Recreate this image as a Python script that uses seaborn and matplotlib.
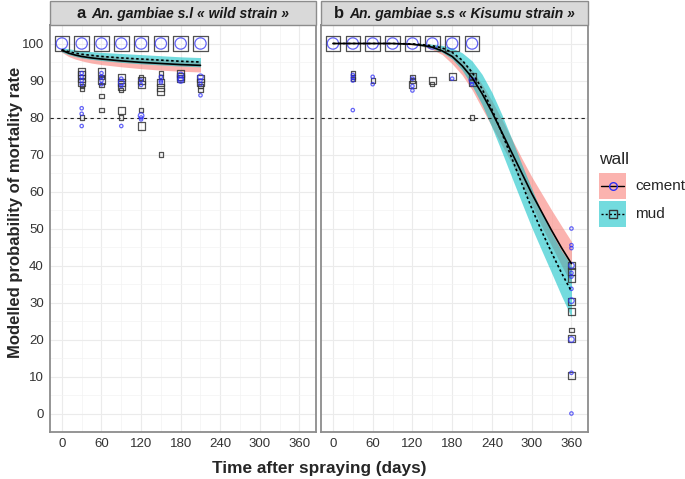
import matplotlib
matplotlib.use("Agg")
import matplotlib.pyplot as plt
from matplotlib.patches import Rectangle
from matplotlib.lines import Line2D
import pandas as pd
import seaborn as sns

# ---- observed points: panel a (wild strain) ----
a_cement_t = [0, 30, 60, 90, 120, 150, 180, 210,
              30, 30, 30, 30, 30, 30, 30,
              60, 60, 60, 60,
              90, 90, 90, 90,
              120, 120, 120, 120, 120,
              150, 150, 150,
              180, 180, 180,
              210, 210, 210, 210]
a_cement_y = [100, 100, 100, 100, 100, 100, 100, 100,
              92, 91, 90, 89, 82.5, 81, 77.7,
              92, 91, 90, 89,
              90.5, 89.5, 88.5, 77.7,
              90, 88.8, 80.5, 80, 79.5,
              91, 90, 89.5,
              91.5, 90.5, 90,
              91, 90, 89, 86]
a_cement_n = ['L'] * 8 + ['S', 'S', 'S', 'S', 'S', 'S', 'S',
              'S', 'S', 'S', 'S',
              'S', 'M', 'S', 'S',
              'S', 'S', 'M', 'S', 'S',
              'S', 'S', 'S',
              'M', 'M', 'M',
              'M', 'S', 'S', 'S']

a_mud_t = [0, 30, 60, 90, 120, 150, 180, 210,
           30, 30, 30, 30, 30, 30, 30,
           60, 60, 60, 60, 60, 60,
           90, 90, 90, 90, 90, 90,
           120, 120, 120, 120, 120,
           150, 150, 150, 150, 150, 150,
           180, 180, 180,
           210, 210, 210, 210]
a_mud_y = [100, 100, 100, 100, 100, 100, 100, 100,
           92.5, 91.5, 90.5, 89.5, 88.5, 87.7, 80,
           92.3, 91, 90, 88.8, 85.8, 82,
           90.8, 89.5, 88.5, 87.5, 82, 80,
           90.8, 90, 89, 82, 77.7,
           92, 91, 89.5, 88, 87, 70,
           92, 91, 90.5,
           90.5, 89.5, 88.5, 87.5]
a_mud_n = ['L'] * 8 + ['M', 'M', 'M', 'M', 'S', 'S', 'S',
           'M', 'S', 'M', 'S', 'S', 'S',
           'M', 'M', 'M', 'S', 'M', 'S',
           'S', 'M', 'M', 'S', 'M',
           'S', 'S', 'M', 'M', 'M', 'S',
           'M', 'M', 'M',
           'M', 'M', 'S', 'S']

# ---- observed points: panel b (Kisumu strain) ----
b_cement_t = [0, 30, 60, 90, 120, 150, 180, 210,
              30, 30, 30, 30,
              60, 60,
              120, 120, 120,
              180,
              210, 210,
              360, 360, 360, 360, 360, 360, 360, 360, 360, 360, 360]
b_cement_y = [100, 100, 100, 100, 100, 100, 100, 100,
              91.5, 90.8, 90, 82,
              91, 89,
              90.5, 88.5, 87.3,
              90.5,
              90, 89,
              50, 45.5, 44.7, 40, 38, 37, 33.7, 30.5, 20, 11, 0]
b_cement_n = ['L'] * 8 + ['S', 'S', 'S', 'S',
              'S', 'S',
              'S', 'S', 'S',
              'S',
              'M', 'S',
              'S', 'S', 'S', 'M', 'S', 'S', 'S', 'M', 'M', 'S', 'S']

b_mud_t = [0, 30, 60, 90, 120, 150, 180, 210,
           30, 30, 30,
           60,
           120, 120, 120,
           150, 150,
           180,
           210, 210, 210,
           360, 360, 360, 360, 360, 360, 360, 360]
b_mud_y = [100, 100, 100, 100, 100, 100, 100, 100,
           92, 91, 90.3,
           90,
           91, 90, 89,
           90, 89,
           91,
           91, 89.5, 80,
           40, 38.5, 36.5, 30.3, 27.5, 22.5, 20.2, 10.2]
b_mud_n = ['L'] * 8 + ['S', 'S', 'S',
           'S',
           'S', 'S', 'M',
           'M', 'S',
           'M',
           'M', 'M', 'S',
           'M', 'M', 'M', 'M', 'M', 'S', 'M', 'M']

# ---- fitted curves and confidence ribbons ----
a_fit_t = [0, 10, 20, 30, 45, 60, 90, 120, 150, 180, 210]
a_cement_fit = [98.2, 97.4, 96.9, 96.5, 96.1, 95.8, 95.3, 94.9, 94.6, 94.3, 94.1]
a_cement_lo = [97.6, 96.5, 95.8, 95.3, 94.7, 94.3, 93.7, 93.2, 92.8, 92.5, 92.3]
a_cement_hi = [98.6, 98.1, 97.7, 97.4, 97.1, 96.8, 96.4, 96.1, 95.8, 95.5, 95.3]
a_mud_fit = [98.3, 97.8, 97.4, 97.1, 96.8, 96.5, 96.1, 95.8, 95.5, 95.2, 95.0]
a_mud_lo = [97.7, 97.0, 96.5, 96.1, 95.7, 95.4, 94.9, 94.5, 94.2, 93.9, 93.7]
a_mud_hi = [98.8, 98.6, 98.3, 98.0, 97.8, 97.6, 97.3, 97.0, 96.7, 96.4, 96.2]

b_fit_t = [0, 30, 60, 90, 120, 135, 150, 165, 180, 195, 210, 225, 240,
           255, 270, 285, 300, 315, 330, 345, 360]
b_cement_fit = [100, 100, 100, 100, 99.8, 99.5, 99.0, 98.0, 96.5, 94.0, 90.8,
                86.5, 81.5, 76.0, 70.5, 65.0, 59.5, 54.5, 49.5, 44.8, 40.5]
b_cement_lo = [100, 100, 100, 100, 99.6, 99.2, 98.4, 97.0, 94.5, 91.5, 87.5,
               82.5, 77.5, 72.5, 67.5, 62.0, 56.5, 50.6, 45.3, 40.0, 35.0]
b_cement_hi = [100, 100, 100, 100, 99.9, 99.7, 99.4, 98.7, 97.6, 95.5, 92.8,
               89.0, 84.5, 79.5, 74.2, 69.0, 64.0, 59.5, 55.0, 50.7, 46.5]
b_mud_fit = [100, 100, 100, 100, 99.9, 99.7, 99.4, 98.8, 97.6, 95.5, 92.2,
             87.8, 82.2, 75.8, 69.0, 62.2, 55.5, 49.3, 43.5, 38.0, 33.0]
b_mud_lo = [100, 100, 100, 100, 99.7, 99.3, 98.7, 97.6, 95.8, 92.8, 88.6,
            83.5, 77.3, 70.7, 63.8, 57.0, 50.3, 44.1, 38.0, 31.8, 26.0]
b_mud_hi = [100, 100, 100, 100, 100, 99.9, 99.8, 99.5, 98.8, 97.5, 95.3,
            91.7, 86.8, 80.8, 74.2, 67.4, 60.8, 54.5, 48.8, 44.0, 40.0]

x_ticks = [0, 60, 120, 180, 240, 300, 360]
y_ticks = [0, 10, 20, 30, 40, 50, 60, 70, 80, 90, 100]
threshold = 80

PINK = '#F8766D'
TEAL = '#00BFC4'
BLUE = '#3030F5'
GREY = '#333333'
circle_sizes = {'S': 6, 'M': 16, 'L': 66}
square_sizes = {'S': 9, 'M': 26, 'L': 110}

sns.set_style("white")
plt.rcParams['font.family'] = ['Liberation Sans', 'DejaVu Sans']

W, H = 685, 479
fig = plt.figure(figsize=(W / 100, H / 100), dpi=100)


def fx(px):
    return px / W


def fy(py):
    return 1 - py / H


TOP, BOTTOM = 25, 432
panels = [
    dict(left=50, right=316, letter='a', title='An. gambiae s.l \u00ab wild strain \u00bb',
         pts=[(a_cement_t, a_cement_y, a_cement_n), (a_mud_t, a_mud_y, a_mud_n)],
         fit=(a_fit_t, a_cement_fit, a_cement_lo, a_cement_hi, a_mud_fit, a_mud_lo, a_mud_hi)),
    dict(left=321, right=588, letter='b', title='An. gambiae s.s \u00ab Kisumu strain \u00bb',
         pts=[(b_cement_t, b_cement_y, b_cement_n), (b_mud_t, b_mud_y, b_mud_n)],
         fit=(b_fit_t, b_cement_fit, b_cement_lo, b_cement_hi, b_mud_fit, b_mud_lo, b_mud_hi)),
]

renderer = fig.canvas.get_renderer()
for i, p in enumerate(panels):
    ax = fig.add_axes([fx(p['left']), fy(BOTTOM), (p['right'] - p['left']) / W, (BOTTOM - TOP) / H])
    ax.set_xlim(-18, 385)
    ax.set_ylim(-5, 105)
    ax.set_xticks(x_ticks)
    ax.set_xticks(range(30, 390, 60), minor=True)
    ax.set_yticks(y_ticks)
    ax.set_yticks(range(5, 105, 10), minor=True)
    ax.grid(True, which='major', color='#EBEBEB', lw=0.8, zorder=0)
    ax.grid(True, which='minor', color='#F3F3F3', lw=0.5, zorder=0)
    ax.set_axisbelow(True)
    for s in ax.spines.values():
        s.set_color('#8C8C8C')
        s.set_linewidth(1.3)
    ax.tick_params(which='major', length=2.5, width=0.7, color='#555555',
                   labelsize=9.5, labelcolor='#333333', pad=2)
    ax.tick_params(which='minor', length=0)
    if i == 1:
        ax.set_yticklabels([])
        ax.tick_params(axis='y', which='major', length=0)

    t, c_fit, c_lo, c_hi, m_fit, m_lo, m_hi = p['fit']
    ax.fill_between(t, c_lo, c_hi, color=PINK, alpha=0.55, lw=0, zorder=2)
    ax.fill_between(t, m_lo, m_hi, color=TEAL, alpha=0.55, lw=0, zorder=2)

    ax.axhline(threshold, color='#222222', lw=0.8, ls=(0, (3, 3)), zorder=3)

    (ct, cy, cn), (mt, my, mn) = p['pts']
    df_m = pd.DataFrame({'time': mt, 'value': my, 'n': mn})
    df_c = pd.DataFrame({'time': ct, 'value': cy, 'n': cn})
    sns.scatterplot(data=df_m, x='time', y='value', size='n', sizes=square_sizes,
                    marker='s', facecolors='none', edgecolor=GREY, linewidth=0.9,
                    alpha=0.85, legend=False, ax=ax, zorder=4)
    sns.scatterplot(data=df_c, x='time', y='value', size='n', sizes=circle_sizes,
                    marker='o', facecolors='none', edgecolor=BLUE, linewidth=0.9,
                    alpha=0.75, legend=False, ax=ax, zorder=5)

    sns.lineplot(x=t, y=c_fit, color='black', lw=1.2, ax=ax, zorder=6)
    sns.lineplot(x=t, y=m_fit, color='black', lw=1.2, ls=(0, (1.5, 1.5)), ax=ax, zorder=6)
    ax.set_xlabel('')
    ax.set_ylabel('')

    # facet strip
    fig.patches.append(Rectangle((fx(p['left']), fy(TOP)), (p['right'] - p['left']) / W, 24 / H,
                                 transform=fig.transFigure, facecolor='#D9D9D9',
                                 edgecolor='#8C8C8C', lw=1.0))
    base = fy(18)
    t1 = fig.text(0, base, p['letter'], fontsize=12, fontweight='bold', va='baseline', color='#1A1A1A')
    t2 = fig.text(0, base, p['title'], fontsize=10, fontweight='bold', style='italic',
                  va='baseline', color='#1A1A1A')
    w1 = t1.get_window_extent(renderer).width
    w2 = t2.get_window_extent(renderer).width
    gap = 6
    x0 = (p['left'] + p['right']) / 2 - (w1 + gap + w2) / 2
    t1.set_x(fx(x0))
    t2.set_x(fx(x0 + w1 + gap))

fig.text(fx(16), fy(212), 'Modelled probability of mortality rate', rotation=90,
         fontsize=12, fontweight='bold', ha='center', va='center')
fig.text(fx(319), fy(469), 'Time after spraying (days)', fontsize=12.4, fontweight='bold',
         ha='center', va='center')

# legend
fig.text(fx(599), fy(159), 'wall', fontsize=12.5, ha='left', va='center')
keys = [('cement', PINK, '-', 'o', BLUE, 173), ('mud', TEAL, (0, (1.5, 1.5)), 's', GREY, 201)]
for label, fill, ls, mk, mc, ytop in keys:
    fig.patches.append(Rectangle((fx(599), fy(ytop + 26)), 27 / W, 26 / H,
                                 transform=fig.transFigure, facecolor=fill, alpha=0.55, lw=0))
    fig.lines.append(Line2D([fx(601), fx(624)], [fy(ytop + 13)] * 2, transform=fig.transFigure,
                            color='black', lw=1.0, ls=ls))
    fig.lines.append(Line2D([fx(612.5)], [fy(ytop + 13)], transform=fig.transFigure,
                            marker=mk, markersize=5.5, markerfacecolor='none',
                            markeredgecolor=mc, markeredgewidth=1.0, ls='none'))
    fig.text(fx(635), fy(ytop + 13), label, fontsize=11, ha='left', va='center')

fig.savefig('out.png', dpi=100)
